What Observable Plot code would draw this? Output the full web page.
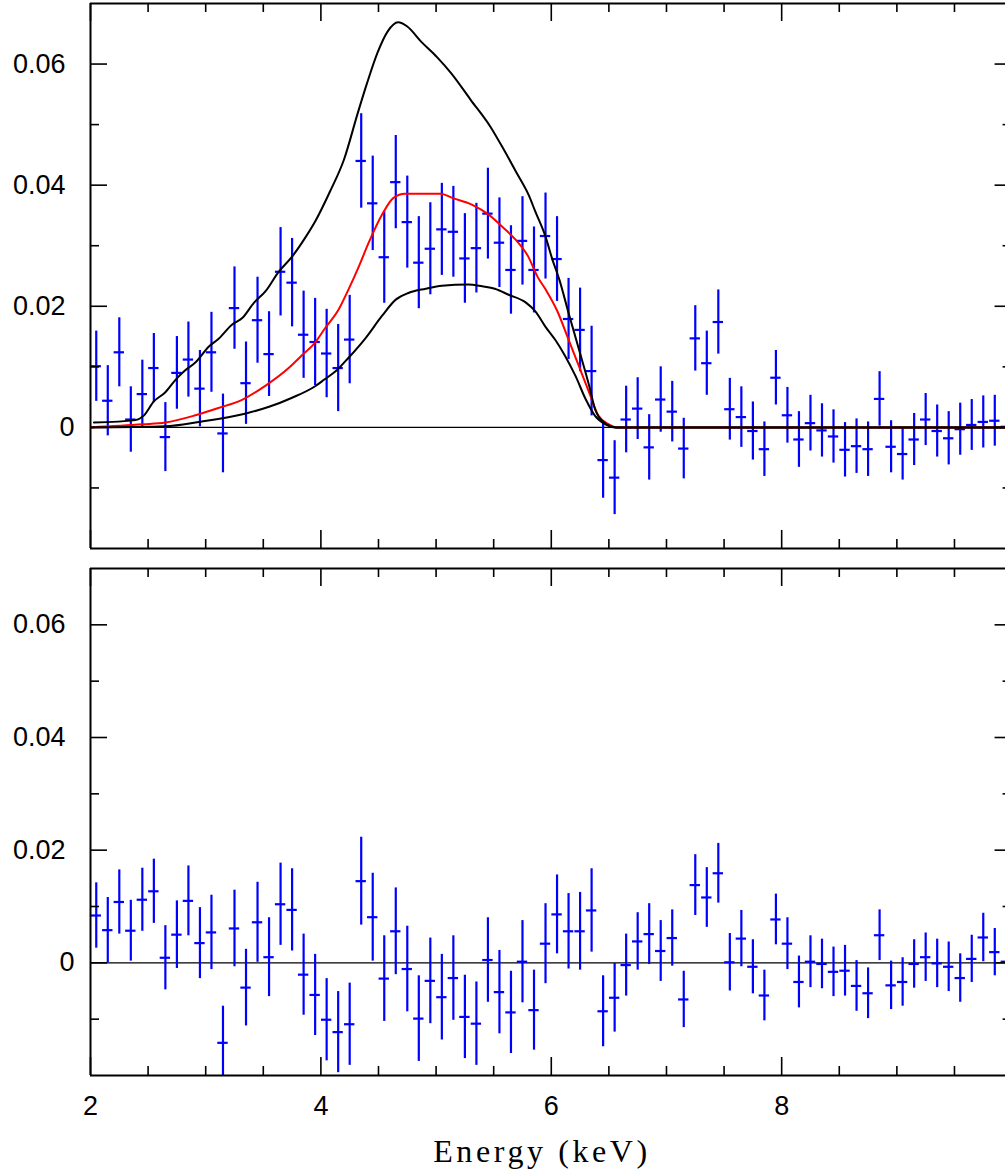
<!DOCTYPE html>
<html><head><meta charset="utf-8">
<script src="https://cdn.jsdelivr.net/npm/d3@7"></script>
<script src="https://cdn.jsdelivr.net/npm/@observablehq/plot@0.6"></script>
<style>
html,body{margin:0;padding:0;background:#fff;overflow:hidden}
#chart svg{display:block}
</style></head><body><div id="chart"></div>
<script>
// ---- data ----
const energy = [2.05,2.15,2.25,2.35,2.45,2.55,2.65,2.75,2.85,2.95,
  3.05,3.15,3.25,3.35,3.45,3.55,3.65,3.75,3.85,3.95,
  4.05,4.15,4.25,4.35,4.45,4.55,4.65,4.75,4.85,4.95,
  5.05,5.15,5.25,5.35,5.45,5.55,5.65,5.75,5.85,5.95,
  6.05,6.15,6.25,6.35,6.45,6.55,6.65,6.75,6.85,6.95,
  7.05,7.15,7.25,7.35,7.45,7.55,7.65,7.75,7.85,7.95,
  8.05,8.15,8.25,8.35,8.45,8.55,8.65,8.75,8.85,8.95,
  9.05,9.15,9.25,9.35,9.45,9.55,9.65,9.75,9.85,9.95];
const rate = [0.0101,0.0044,0.0124,0.0013,0.0055,0.0098,-0.0016,0.0090,0.0112,0.0064,
  0.0124,-0.0010,0.0197,0.0073,0.0177,0.0121,0.0257,0.0239,0.0153,0.0141,
  0.0122,0.0098,0.0145,0.0440,0.0370,0.0281,0.0405,0.0339,0.0272,0.0295,
  0.0327,0.0323,0.0279,0.0296,0.0353,0.0305,0.0260,0.0308,0.0260,0.0316,
  0.0278,0.0179,0.0161,0.0093,-0.0054,-0.0083,0.0013,0.0031,-0.0033,0.0046,
  0.0026,-0.0035,0.0147,0.0106,0.0174,0.0030,0.0017,-0.0006,-0.0036,0.0082,
  0.0020,-0.0020,0.0007,-0.0005,-0.0015,-0.0037,-0.0031,-0.0036,0.0047,-0.0032,
  -0.0044,-0.0020,0.0013,-0.0006,-0.0018,-0.0003,0.0004,0.0009,0.0011,0.0001];
const residual = [0.0084,0.0058,0.0108,0.0057,0.0112,0.0127,0.0009,0.0050,0.0110,0.0035,
  0.0054,-0.0142,0.0061,-0.0044,0.0072,0.0010,0.0104,0.0094,-0.0021,-0.0057,
  -0.0101,-0.0123,-0.0109,0.0145,0.0081,-0.0028,0.0056,-0.0011,-0.0099,-0.0032,
  -0.0061,-0.0027,-0.0096,-0.0108,0.0005,-0.0052,-0.0088,0.0002,-0.0084,0.0034,
  0.0086,0.0056,0.0056,0.0093,-0.0086,-0.0062,-0.0004,0.0038,0.0051,0.0021,
  0.0044,-0.0065,0.0138,0.0116,0.0159,0.0001,0.0043,-0.0007,-0.0058,0.0077,
  0.0034,-0.0034,0.0002,-0.0002,-0.0016,-0.0014,-0.0041,-0.0054,0.0049,-0.0040,
  -0.0034,-0.0002,0.0010,-0.0001,-0.0007,-0.0027,0.0007,0.0045,0.0019,0.0002];
const rateErr = [0.0058,0.0058,0.0057,0.0054,0.0056,0.0057,0.0057,0.0060,0.0062,0.0063,
  0.0066,0.0065,0.0068,0.0068,0.0071,0.0070,0.0073,0.0073,0.0072,0.0072,
  0.0073,0.0072,0.0073,0.0078,0.0078,0.0076,0.0077,0.0076,0.0076,0.0076,
  0.0076,0.0075,0.0074,0.0074,0.0075,0.0074,0.0073,0.0073,0.0071,0.0071,
  0.0070,0.0067,0.0069,0.0074,0.0063,0.0061,0.0055,0.0051,0.0054,0.0054,
  0.0050,0.0050,0.0054,0.0053,0.0053,0.0051,0.0050,0.0048,0.0045,0.0045,
  0.0046,0.0046,0.0046,0.0044,0.0044,0.0045,0.0045,0.0045,0.0045,0.0043,
  0.0043,0.0043,0.0043,0.0043,0.0044,0.0043,0.0042,0.0043,0.0042,0.0042];
const binHalf = 0.045;

// model curves (top panel)
const upperE = [2.03,2.39,2.46,2.55,2.65,2.74,2.82,2.91,3.03,3.11,3.23,3.32,3.42,3.52,3.63,3.75,3.87,3.95,4.08,4.20,4.32,4.40,4.49,4.58,4.67,4.75,4.87,5.01,5.13,5.30,5.47,5.59,5.70,5.81,5.86,5.95,6.01,6.07,6.15,6.24,6.33,6.38,6.46,6.56,10.0];
const upperY = [0.0008,0.0012,0.0019,0.0043,0.0058,0.0079,0.0094,0.0107,0.0134,0.0146,0.0170,0.0181,0.0206,0.0225,0.0256,0.0282,0.0315,0.0340,0.0390,0.0442,0.0519,0.0568,0.0618,0.0654,0.0669,0.0662,0.0637,0.0611,0.0585,0.0541,0.0497,0.0458,0.0420,0.0381,0.0357,0.0315,0.0277,0.0244,0.0189,0.0129,0.0068,0.0030,0.0008,0.0,0.0];
const redE = [2.0,2.45,2.65,2.91,3.11,3.32,3.52,3.72,3.84,3.95,4.03,4.155,4.24,4.33,4.415,4.53,4.63,4.73,5.04,5.14,5.31,5.46,5.57,5.69,5.80,5.88,5.95,6.05,6.15,6.24,6.33,6.41,6.50,6.57,10.0];
const redY = [0.0,0.0005,0.0008,0.0020,0.0032,0.0046,0.0069,0.0098,0.0120,0.0140,0.0162,0.0195,0.0228,0.0266,0.0305,0.0351,0.0379,0.0386,0.0386,0.0379,0.0368,0.0351,0.0332,0.0310,0.0282,0.0249,0.0228,0.0193,0.0145,0.0101,0.0057,0.0019,0.0005,0.0,0.0];
const lowerE = [2.0,2.65,2.94,3.35,3.55,3.75,3.95,4.03,4.13,4.24,4.39,4.53,4.65,4.76,4.91,5.05,5.28,5.40,5.51,5.63,5.78,5.86,5.95,6.04,6.12,6.21,6.30,6.38,6.47,6.56,10.0];
const lowerY = [0.0,0.0002,0.0009,0.0023,0.0034,0.0049,0.0068,0.0079,0.0093,0.0115,0.0148,0.0184,0.0211,0.0222,0.0229,0.0234,0.0236,0.0233,0.0229,0.0219,0.0206,0.0192,0.0166,0.0143,0.0118,0.0085,0.0046,0.0019,0.0005,0.0,0.0];

// axes
const xMin = 2, xMax = 10, xView = 9.943;
const yMin = -0.02, yMax = 0.07;
const yLabelZero = [0];
const yLabelTicks = [0.02, 0.04, 0.06];
const yMajor = [0, 0.02, 0.04, 0.06];
const yMinor = [-0.01, 0.01, 0.03, 0.05];
const xLabelTicks = [2, 4, 6, 8];
const xMajor = [2, 4, 6, 8, 10];
const xMinor = [2.5, 3, 3.5, 4.5, 5, 5.5, 6.5, 7, 7.5, 8.5, 9, 9.5];
const xTitle = "Energy (keV)";

const pts = energy.map((e, i) => ({e, rate: rate[i], res: residual[i], err: rateErr[i]}));
const toRows = (E, Y) => E.map((e, i) => ({e, y: Y[i]}));

function frameMarks() {
  const tk = {stroke: "black", strokeWidth: 1.6};
  return [
    Plot.ruleX([xMin], {stroke: "black", strokeWidth: 2}),
    Plot.ruleY([yMin, yMax], {stroke: "black", strokeWidth: 2}),
    Plot.ruleY(yMajor, {y: d => d, x1: xMin, x2: xMin, insetRight: -17, ...tk}),
    Plot.ruleY(yMinor, {y: d => d, x1: xMin, x2: xMin, insetRight: -9, ...tk}),
    Plot.ruleY(yMajor, {y: d => d, x1: xMax, x2: xMax, insetLeft: -17, ...tk}),
    Plot.ruleY(yMinor, {y: d => d, x1: xMax, x2: xMax, insetLeft: -9, ...tk}),
    Plot.ruleX(xMajor, {x: d => d, y1: yMin, y2: yMin, insetTop: -18, ...tk}),
    Plot.ruleX(xMinor, {x: d => d, y1: yMin, y2: yMin, insetTop: -9, ...tk}),
    Plot.ruleX(xMajor, {x: d => d, y1: yMax, y2: yMax, insetBottom: -18, ...tk}),
    Plot.ruleX(xMinor, {x: d => d, y1: yMax, y2: yMax, insetBottom: -9, ...tk}),
    Plot.axisY(yLabelTicks, {anchor: "left", label: null, tickSize: 0, tickPadding: 25, fontSize: 27,
      tickFormat: d => d.toFixed(2)}),
    Plot.axisY(yLabelZero, {anchor: "left", label: null, tickSize: 0, tickPadding: 16, fontSize: 27,
      tickFormat: d => "0"})
  ];
}

function errMarks(key) {
  return [
    Plot.ruleX(pts, {x: "e", y1: d => d[key] - d.err, y2: d => d[key] + d.err, stroke: "#0000ff", strokeWidth: 2.2, clip: true}),
    Plot.ruleY(pts, {y: key, x1: d => d.e - binHalf, x2: d => d.e + binHalf, stroke: "#0000ff", strokeWidth: 2.2, clip: true})
  ];
}

const common = {
  width: 1005, marginLeft: 90, marginRight: 0,
  x: {domain: [xMin, xView], axis: null, label: null},
  y: {domain: [yMin, yMax], axis: null, label: null},
  style: {fontFamily: "'Liberation Sans', Arial, sans-serif", fontSize: "26px", background: "white", color: "black"}
};

const topPanel = Plot.plot({
  ...common, height: 550, marginTop: 3, marginBottom: 2,
  marks: [
    Plot.ruleY([0], {stroke: "black", strokeWidth: 1.2}),
    ...errMarks("rate"),
    Plot.line(toRows(redE, redY), {x: "e", y: "y", stroke: "#ff0000", strokeWidth: 2, curve: "monotone-x", clip: true}),
    Plot.line(toRows(upperE, upperY), {x: "e", y: "y", stroke: "black", strokeWidth: 2, curve: "monotone-x", clip: true}),
    Plot.line(toRows(lowerE, lowerY), {x: "e", y: "y", stroke: "black", strokeWidth: 2, curve: "monotone-x", clip: true}),
    ...frameMarks()
  ]
});

const bottomPanel = Plot.plot({
  ...common, height: 623, marginTop: 18, marginBottom: 98,
  marks: [
    Plot.ruleY([0], {stroke: "black", strokeWidth: 1.2}),
    ...errMarks("res"),
    ...frameMarks(),
    Plot.axisX(xLabelTicks, {anchor: "bottom", label: null, tickSize: 0, tickPadding: 20, fontSize: 27,
      tickFormat: d => String(d)}),
    Plot.text([xTitle], {text: d => d, frameAnchor: "bottom", dy: 86, dx: -6,
      fontFamily: "'Liberation Serif', 'DejaVu Serif', serif", fontSize: 32})
  ]
});

d3.select(bottomPanel).selectAll("text")
  .filter(function() { return this.textContent === xTitle; })
  .attr("letter-spacing", "3.6px");

const chart = document.getElementById("chart");
chart.appendChild(topPanel);
chart.appendChild(bottomPanel);
</script></body></html>
